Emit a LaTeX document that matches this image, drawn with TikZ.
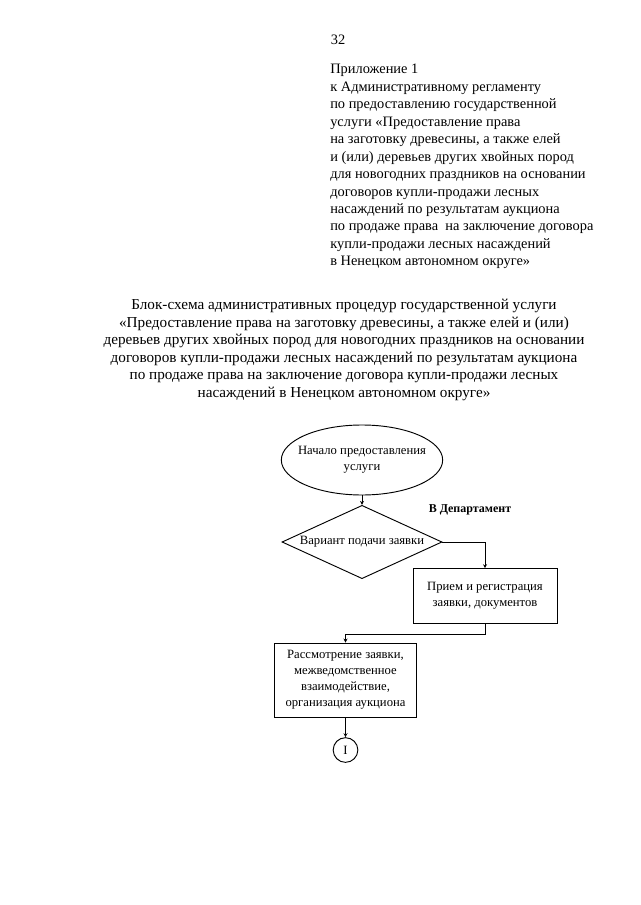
\documentclass[tikz,border=0pt]{standalone}
\usepackage{fontspec}
\setmainfont{Liberation Serif}
\usetikzlibrary{shapes.geometric, arrows.meta}

\begin{document}
\begin{tikzpicture}[x=0.75pt, y=-0.75pt,
    every node/.style={font=\fontsize{10.8}{13.1}\selectfont},
    chart/.style={font=\fontsize{9.5}{11.9}\selectfont, align=center},
    block/.style={draw, line width=0.7pt, rectangle, inner sep=0pt},
    arr/.style={line width=0.7pt, -{Stealth[length=3pt, width=3pt]}}]
    \useasboundingbox (0,0) rectangle (640,905);
    \node (page) at (338,40) {32};
    \node[anchor=north west, align=left, inner sep=0pt] (appendix) at (330,64) {Приложение 1\\
        к Административному регламенту\\
        по предоставлению государственной\\
        услуги «Предоставление права\\
        на заготовку древесины, а также елей\\
        и (или) деревьев других хвойных пород\\
        для новогодних праздников на основании\\
        договоров купли-продажи лесных\\
        насаждений по результатам аукциона\\
        по продаже права~~на заключение договора\\
        купли-продажи лесных насаждений\\
        в Ненецком автономном округе»};
    \node[anchor=north, align=center, inner sep=0pt, font=\fontsize{11.4}{13.1}\selectfont] (title) at (344,299) {Блок-схема административных процедур государственной услуги\\
        «Предоставление права на заготовку древесины, а также елей и (или)\\
        деревьев других хвойных пород для новогодних праздников на основании\\
        договоров купли-продажи лесных насаждений по результатам аукциона\\
        по продаже права на заключение договора купли-продажи лесных\\
        насаждений в Ненецком автономном округе»};
    \node[draw, line width=0.7pt, ellipse, minimum width=121pt, minimum height=52.5pt, inner sep=0pt] (start) at (362,460) {};
    \node[chart] (starttext) at (start) {Начало предоставления\\ услуги};
    \node[draw, line width=0.7pt, diamond, minimum width=120pt, minimum height=55pt, inner sep=0pt] (variant) at (362,542) {};
    \node[chart] (varianttext) at (variant) {Вариант подачи заявки};
    \node[chart, font=\bfseries\fontsize{9}{12}\selectfont] (dept) at (470,510) {В Департамент};
    \node[block, chart, minimum width=108pt, minimum height=41pt] (reg) at (485,596) {Прием и регистрация\\ заявки, документов};
    \node[block, chart, minimum width=107pt, minimum height=55.5pt] (review) at (345.5,680) {Рассмотрение заявки,\\ межведомственное\\ взаимодействие,\\ организация аукциона};
    \node[draw, line width=0.7pt, circle, minimum size=18.5pt, inner sep=0pt, chart] (link) at (345.5,750) {I};
    \coordinate (bend) at (485,634);
    \draw[arr] (start) -- (variant);
    \draw[arr] (variant.east) -| (reg.north);
    \draw[arr] (reg.south) -- (bend) -| (review.north);
    \draw[arr] (review) -- (link);
\end{tikzpicture}
\end{document}
